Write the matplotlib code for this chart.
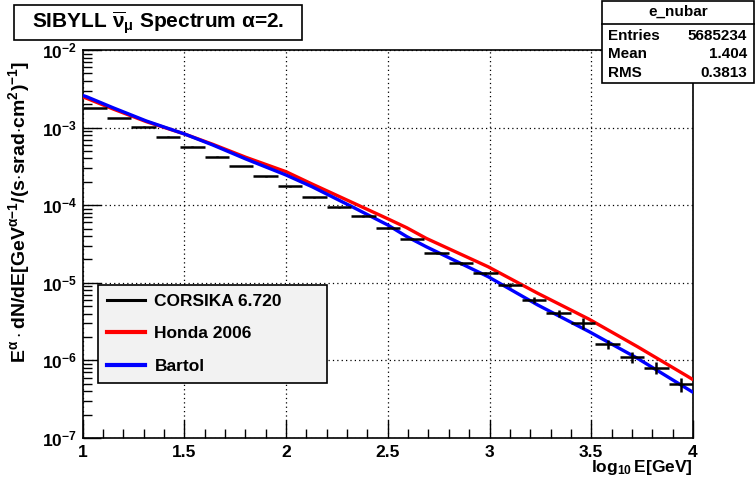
import numpy as np
import matplotlib
matplotlib.use("Agg")
import matplotlib.pyplot as plt
from matplotlib.lines import Line2D
from matplotlib.patches import Rectangle
from matplotlib.ticker import LogLocator, FixedLocator, FuncFormatter, NullFormatter

plt.rcParams["font.family"] = ["Liberation Sans", "DejaVu Sans"]
plt.rcParams["font.weight"] = "bold"
plt.rcParams["mathtext.fontset"] = "custom"
plt.rcParams["mathtext.rm"] = "Liberation Sans:bold"
plt.rcParams["mathtext.it"] = "Liberation Sans:bold"
plt.rcParams["mathtext.bf"] = "Liberation Sans:bold"

# CORSIKA histogram: 25 bins of 0.12 in log10(E)
bin_edges = np.linspace(1.0, 4.0, 26)
corsika = [1.78e-3, 1.32e-3, 1.03e-3, 7.64e-4, 5.68e-4, 4.22e-4, 3.19e-4, 2.37e-4,
           1.76e-4, 1.27e-4, 9.4e-5, 7.26e-5, 5.13e-5, 3.64e-5, 2.44e-5, 1.78e-5,
           1.32e-5, 9.37e-6, 6.0e-6, 4.04e-6, 3.01e-6, 1.61e-6, 1.11e-6, 8.1e-7, 4.96e-7]
corsika_relerr = [0.005, 0.005, 0.006, 0.007, 0.008, 0.01, 0.01, 0.012, 0.014, 0.016,
                  0.02, 0.022, 0.025, 0.03, 0.035, 0.04, 0.045, 0.06, 0.08, 0.1,
                  0.16, 0.13, 0.16, 0.18, 0.2]

bartol_logE = [1.0, 1.02, 1.15, 1.314, 1.501, 1.64, 1.803, 2.0, 2.128, 2.324, 2.5,
               2.593, 2.689, 2.993, 3.237, 3.49, 3.727, 3.968, 3.995]
bartol_log = [-2.585, -2.602, -2.744, -2.915, -3.082, -3.224, -3.405, -3.611, -3.762,
              -4.019, -4.255, -4.404, -4.535, -4.921, -5.286, -5.63, -5.973, -6.36, -6.403]
honda_logE = [1.0, 1.02, 1.15, 1.314, 1.501, 1.64, 1.803, 2.0, 2.128, 2.324, 2.5,
              2.593, 2.689, 2.993, 3.237, 3.49, 3.727, 3.968, 3.995]
honda_log = [-2.605, -2.622, -2.76, -2.924, -3.082, -3.215, -3.383, -3.568, -3.727,
             -3.963, -4.175, -4.29, -4.427, -4.793, -5.135, -5.47, -5.823, -6.197, -6.24]

W, H = 755, 483


def fx(px):
    return px / W


def fy(py):
    return 1 - py / H


fig = plt.figure(figsize=(W / 100, H / 100), dpi=100)
ax = fig.add_axes([fx(82.5), fy(438), fx(693) - fx(82.5), fy(50) - fy(438)])

# curves
ax.plot(honda_logE, 10 ** np.array(honda_log), color="#ff0000", lw=2.4, zorder=3)
ax.plot(bartol_logE, 10 ** np.array(bartol_log), color="#0000ff", lw=2.4, zorder=4)

# histogram bars with errors
centers = 0.5 * (bin_edges[:-1] + bin_edges[1:])
vals = np.array(corsika)
ax.errorbar(centers, vals, xerr=0.06, yerr=vals * np.array(corsika_relerr),
            fmt="none", ecolor="black", elinewidth=1.8, capsize=0, zorder=5)

ax.set_yscale("log")
ax.set_xlim(1, 4)
ax.set_ylim(1e-7, 1e-2)

ax.xaxis.set_major_locator(FixedLocator([1, 1.5, 2, 2.5, 3, 3.5, 4]))
ax.xaxis.set_minor_locator(FixedLocator(np.arange(1.1, 4.0, 0.1)))
ax.xaxis.set_major_formatter(FuncFormatter(lambda v, p: "%g" % v))
ax.yaxis.set_major_locator(LogLocator(base=10, numticks=10))
ax.yaxis.set_minor_locator(LogLocator(base=10, subs=np.arange(2, 10), numticks=20))
ax.yaxis.set_minor_formatter(NullFormatter())
ax.yaxis.set_major_formatter(FuncFormatter(lambda v, p: r"$10^{%d}$" % round(np.log10(v))))

ax.tick_params(which="both", direction="in", top=False, right=False, width=1,
               labelsize=12.5)
ax.tick_params(which="major", length=13)
ax.tick_params(which="minor", length=6.5)
ax.tick_params(axis="x", pad=5)
ax.tick_params(axis="y", pad=4)
for lab in ax.get_xticklabels() + ax.get_yticklabels():
    lab.set_fontweight("bold")

ax.grid(True, which="major", linestyle=(0, (1, 2.5)), color="black", lw=0.9)
for s in ax.spines.values():
    s.set_linewidth(1.2)

# axis labels
fig.text(fx(693), fy(472), r"$\log_{10}$E[GeV]", ha="right", va="baseline",
         fontsize=12.5, fontweight="bold")
fig.text(fx(19), fy(212),
         r"E$^{\alpha}\cdot$dN/dE[GeV$^{\alpha\mathrm{-1}}$/(s$\cdot$srad$\cdot$cm$^{2}$)$^{-1}$]",
         rotation=90, ha="center", va="center", fontsize=14, fontweight="bold")

# legend
handles = [Line2D([], [], color="black", lw=2.2),
           Line2D([], [], color="#ff0000", lw=3),
           Line2D([], [], color="#0000ff", lw=3)]
labels = ["CORSIKA 6.720", "Honda 2006", "Bartol"]
leg = ax.legend(handles, labels, loc="upper left",
                bbox_to_anchor=(fx(98), fy(381), fx(327) - fx(98), fy(285) - fy(381)),
                bbox_transform=fig.transFigure, mode="expand",
                prop={"size": 12.5, "weight": "bold"}, fancybox=False,
                edgecolor="black", facecolor="#f2f2f2", framealpha=1,
                handlelength=2.2, handletextpad=0.55, labelspacing=1.0,
                borderpad=0.5, borderaxespad=0)
leg.get_frame().set_linewidth(1.2)

# title box
fig.patches.append(Rectangle((fx(14), fy(40)), fx(302) - fx(14), fy(5) - fy(40),
                             transform=fig.transFigure, facecolor="white",
                             edgecolor="black", lw=1.2))
fig.text(fx(158), fy(23), r"SIBYLL $\overline{\nu}_{\mu}$ Spectrum $\alpha$=2.",
         ha="center", va="center", fontsize=15, fontweight="bold")

# stats box
fig.patches.append(Rectangle((fx(602), fy(83)), fx(754) - fx(602), fy(1) - fy(83),
                             transform=fig.transFigure, facecolor="white",
                             edgecolor="black", lw=1.2))
fig.lines.append(Line2D([fx(602), fx(754)], [fy(24), fy(24)],
                        transform=fig.transFigure, color="black", lw=1.2))
fig.text(fx(678), fy(12), "e_nubar", ha="center", va="center", fontsize=11,
         fontweight="bold")
stats = [("Entries", "5685234"), ("Mean", "1.404"), ("RMS", "0.3813")]
for i, (k, v) in enumerate(stats):
    yy = fy(36 + 18.5 * i)
    fig.text(fx(608), yy, k, ha="left", va="center", fontsize=11, fontweight="bold")
    fig.text(fx(747), yy, v, ha="right", va="center", fontsize=11, fontweight="bold")

fig.savefig("out.png", dpi=100)
